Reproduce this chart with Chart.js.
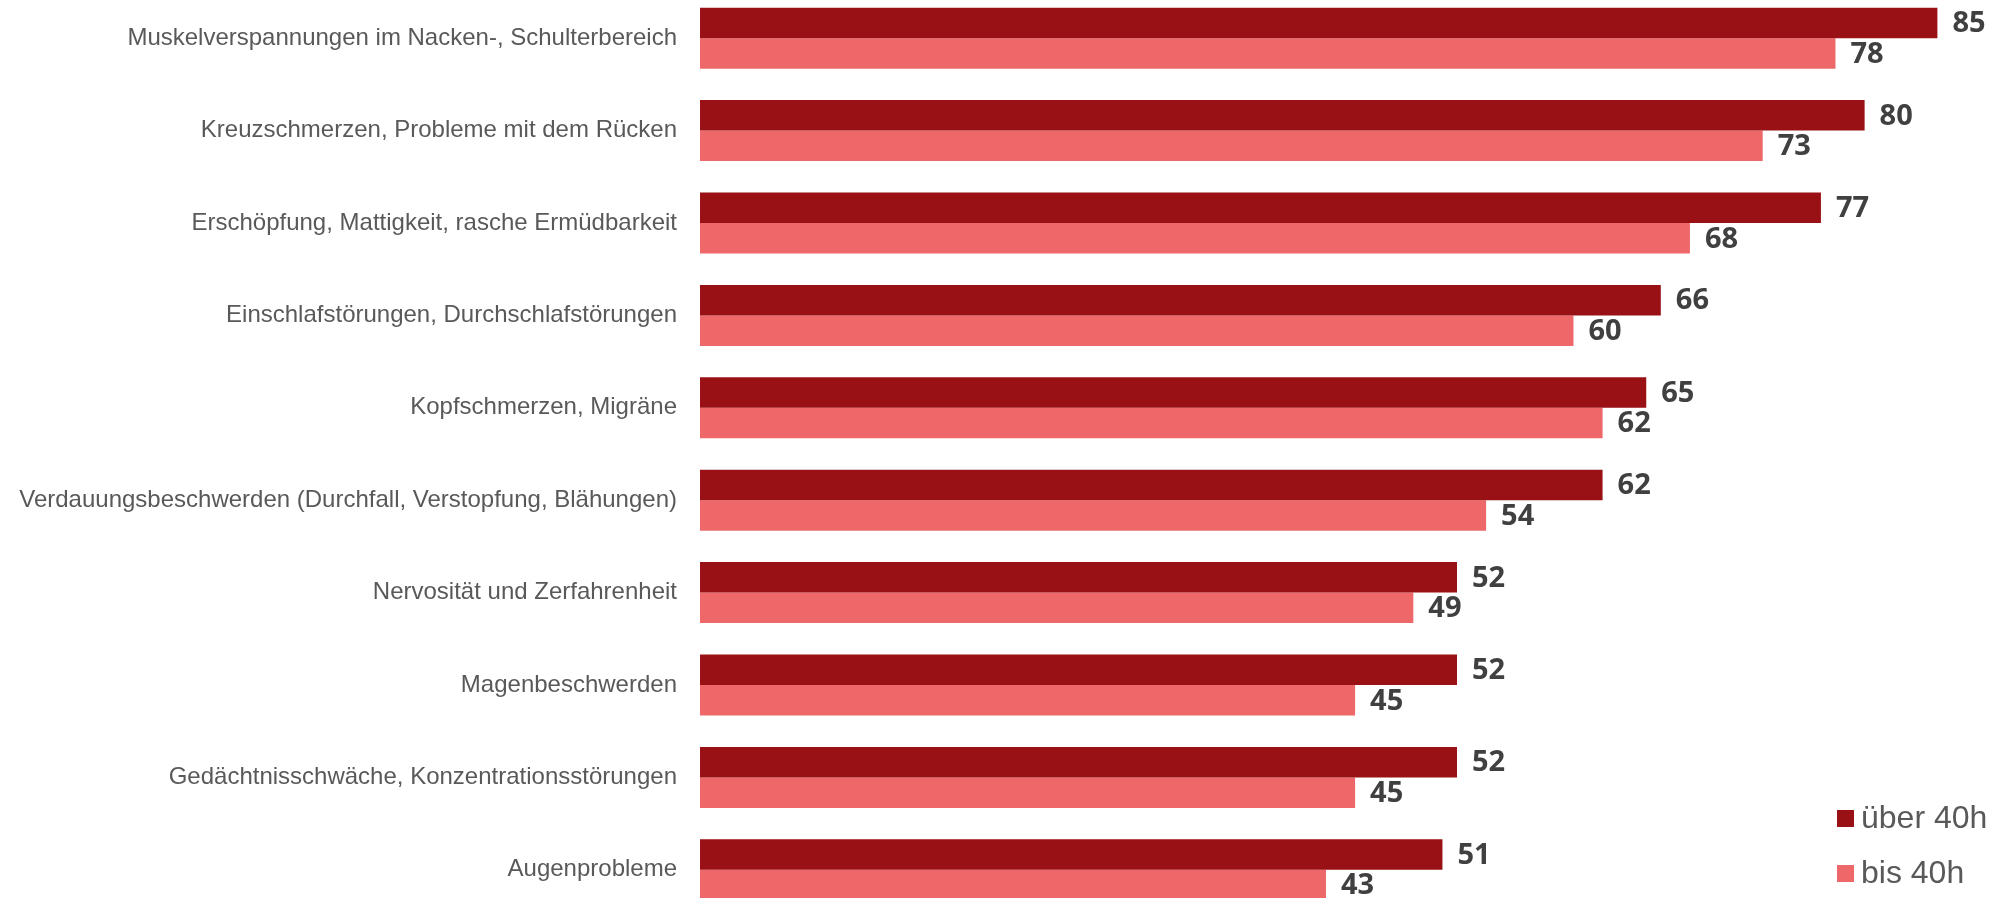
<!DOCTYPE html>
<html>
<head>
<meta charset="utf-8">
<script src="https://cdn.jsdelivr.net/npm/chart.js@4.4.1/dist/chart.umd.min.js"></script>
<style>
  html, body { margin: 0; padding: 0; background: #fff; overflow: hidden; }
  #wrap { position: absolute; left: 0; top: -8px; width: 2000px; height: 924px; }
</style>
</head>
<body>
<div id="wrap"><canvas id="symptomChart"></canvas></div>
<script>
const categories = [
    "Muskelverspannungen im Nacken-, Schulterbereich",
    "Kreuzschmerzen, Probleme mit dem Rücken",
    "Erschöpfung, Mattigkeit, rasche Ermüdbarkeit",
    "Einschlafstörungen, Durchschlafstörungen",
    "Kopfschmerzen, Migräne",
    "Verdauungsbeschwerden (Durchfall, Verstopfung, Blähungen)",
    "Nervosität und Zerfahrenheit",
    "Magenbeschwerden",
    "Gedächtnisschwäche, Konzentrationsstörungen",
    "Augenprobleme"
];
const seriesNames = ["über 40h", "bis 40h"];
const over40 = [85, 80, 77, 66, 65, 62, 52, 52, 52, 51];
const upTo40 = [78, 73, 68, 60, 62, 54, 49, 45, 45, 43];

const darkRed = '#9a1115';
const lightRed = '#ee6869';

// value labels at the end of each bar
const valueLabels = {
    id: 'valueLabels',
    afterDatasetsDraw(chart) {
        const c = chart.ctx;
        c.save();
        c.font = '700 29px "Open Sans", sans-serif';
        c.fillStyle = '#404040';
        c.textAlign = 'left';
        c.textBaseline = 'middle';
        chart.data.datasets.forEach((ds, i) => {
            chart.getDatasetMeta(i).data.forEach((bar, j) => {
                c.fillText(ds.data[j], bar.x + 15, bar.y + 1);
            });
        });
        c.restore();
    }
};

// legend in the lower right corner
const cornerLegend = {
    id: 'cornerLegend',
    afterDraw(chart) {
        const c = chart.ctx;
        const x = chart.chartArea.right - 163;
        const rows = [826, 881];
        c.save();
        c.font = '32px "Liberation Sans", Arial, sans-serif';
        c.textBaseline = 'middle';
        c.textAlign = 'left';
        chart.data.datasets.forEach((ds, i) => {
            c.fillStyle = ds.backgroundColor;
            c.fillRect(x, rows[i] - 8, 17, 17);
            c.fillStyle = '#595959';
            c.fillText(ds.label, x + 24, rows[i] + 1);
        });
        c.restore();
    }
};

const ctx = document.getElementById('symptomChart').getContext('2d');

new Chart(ctx, {
    type: 'bar',
    data: {
        labels: categories,
        datasets: [
            { label: seriesNames[0], data: over40, backgroundColor: darkRed },
            { label: seriesNames[1], data: upTo40, backgroundColor: lightRed }
        ]
    },
    options: {
        indexAxis: 'y',
        responsive: true,
        maintainAspectRatio: false,
        animation: false,
        layout: { padding: 0 },
        datasets: {
            bar: { categoryPercentage: 0.66, barPercentage: 1.0 }
        },
        plugins: {
            legend: { display: false },
            tooltip: { enabled: false }
        },
        scales: {
            x: {
                display: false,
                min: 0,
                max: 89.3
            },
            y: {
                grid: { display: false, drawTicks: false },
                border: { display: false },
                ticks: {
                    padding: 23,
                    color: '#595959',
                    font: { family: '"Liberation Sans", Arial, sans-serif', size: 24 }
                },
                afterFit(scale) {
                    scale.width = 700;
                    scale.paddingTop = 0;
                    scale.paddingBottom = 0;
                }
            }
        }
    },
    plugins: [valueLabels, cornerLegend]
});
</script>
</body>
</html>
